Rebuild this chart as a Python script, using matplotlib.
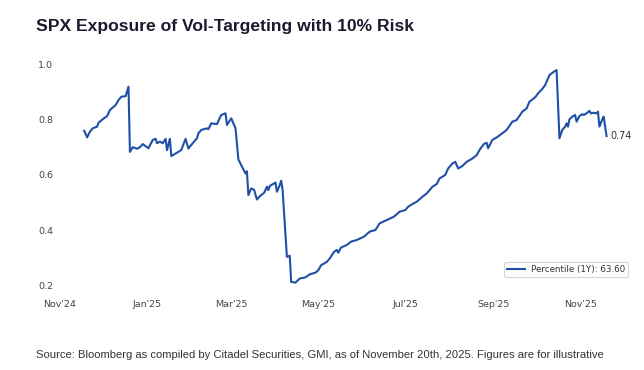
import matplotlib
matplotlib.use("Agg")
import matplotlib.pyplot as plt
import matplotlib.dates as mdates
import pandas as pd
import numpy as np

dates = [
    "2024-11-18", "2024-11-20", "2024-11-22", "2024-11-24", "2024-11-27", "2024-11-28",
    "2024-12-01", "2024-12-04", "2024-12-06", "2024-12-10", "2024-12-12", "2024-12-14",
    "2024-12-17", "2024-12-19", "2024-12-20", "2024-12-22", "2024-12-25", "2024-12-27",
    "2024-12-29", "2025-01-02", "2025-01-05", "2025-01-07", "2025-01-08", "2025-01-10",
    "2025-01-12", "2025-01-14", "2025-01-15", "2025-01-17", "2025-01-18", "2025-01-21",
    "2025-01-23", "2025-01-25", "2025-01-28", "2025-01-30", "2025-02-01", "2025-02-05",
    "2025-02-06", "2025-02-08", "2025-02-12", "2025-02-13", "2025-02-15", "2025-02-19",
    "2025-02-20", "2025-02-22", "2025-02-25", "2025-02-26", "2025-03-01", "2025-03-02",
    "2025-03-04", "2025-03-06", "2025-03-08", "2025-03-11", "2025-03-12", "2025-03-13",
    "2025-03-15", "2025-03-17", "2025-03-19", "2025-03-21", "2025-03-24", "2025-03-26",
    "2025-03-27", "2025-03-28", "2025-04-01", "2025-04-02", "2025-04-04", "2025-04-05",
    "2025-04-06", "2025-04-09", "2025-04-11", "2025-04-12", "2025-04-15", "2025-04-18",
    "2025-04-22", "2025-04-25", "2025-04-29", "2025-05-01", "2025-05-03", "2025-05-05",
    "2025-05-07", "2025-05-09", "2025-05-12", "2025-05-14", "2025-05-15", "2025-05-17",
    "2025-05-21", "2025-05-24", "2025-05-28", "2025-06-02", "2025-06-06", "2025-06-10",
    "2025-06-13", "2025-06-18", "2025-06-23", "2025-06-27", "2025-07-01", "2025-07-03",
    "2025-07-06", "2025-07-09", "2025-07-13", "2025-07-16", "2025-07-20", "2025-07-23",
    "2025-07-25", "2025-07-29", "2025-07-31", "2025-08-03", "2025-08-05", "2025-08-07",
    "2025-08-10", "2025-08-13", "2025-08-17", "2025-08-20", "2025-08-22", "2025-08-25",
    "2025-08-27", "2025-08-28", "2025-08-31", "2025-09-03", "2025-09-07", "2025-09-10",
    "2025-09-14", "2025-09-17", "2025-09-21", "2025-09-24", "2025-09-26", "2025-09-30",
    "2025-10-02", "2025-10-05", "2025-10-07", "2025-10-10", "2025-10-13", "2025-10-15",
    "2025-10-17", "2025-10-19", "2025-10-21", "2025-10-22", "2025-10-23", "2025-10-24",
    "2025-10-26", "2025-10-28", "2025-10-29", "2025-10-31", "2025-11-02", "2025-11-03",
    "2025-11-05", "2025-11-07", "2025-11-08", "2025-11-10", "2025-11-12", "2025-11-13",
    "2025-11-14", "2025-11-16", "2025-11-17", "2025-11-19",
]
exposure = [
    0.759, 0.735, 0.756, 0.768, 0.774, 0.788,
    0.801, 0.812, 0.834, 0.852, 0.870, 0.882,
    0.884, 0.918, 0.683, 0.700, 0.694, 0.700,
    0.711, 0.696, 0.726, 0.730, 0.714, 0.720,
    0.714, 0.730, 0.689, 0.730, 0.668, 0.677,
    0.683, 0.690, 0.730, 0.695, 0.708, 0.732,
    0.750, 0.762, 0.768, 0.765, 0.786, 0.783,
    0.795, 0.816, 0.822, 0.780, 0.804, 0.792,
    0.768, 0.656, 0.635, 0.605, 0.613, 0.527,
    0.551, 0.546, 0.511, 0.523, 0.535, 0.557,
    0.545, 0.560, 0.572, 0.539, 0.563, 0.579,
    0.545, 0.304, 0.308, 0.214, 0.211, 0.226,
    0.230, 0.241, 0.247, 0.256, 0.274, 0.280,
    0.286, 0.298, 0.322, 0.329, 0.319, 0.338,
    0.347, 0.359, 0.365, 0.377, 0.395, 0.401,
    0.425, 0.437, 0.449, 0.467, 0.473, 0.485,
    0.495, 0.503, 0.521, 0.533, 0.557, 0.567,
    0.587, 0.600, 0.623, 0.641, 0.647, 0.623,
    0.632, 0.647, 0.659, 0.671, 0.690, 0.711,
    0.716, 0.696, 0.726, 0.735, 0.750, 0.762,
    0.792, 0.798, 0.828, 0.840, 0.864, 0.880,
    0.894, 0.910, 0.924, 0.960, 0.972, 0.978,
    0.732, 0.762, 0.774, 0.786, 0.774, 0.800,
    0.810, 0.816, 0.792, 0.812, 0.819, 0.816,
    0.822, 0.831, 0.822, 0.824, 0.822, 0.828,
    0.774, 0.800, 0.810, 0.740,
]

title = "SPX Exposure of Vol-Targeting with 10% Risk"
legend_label = "Percentile (1Y): 63.60"
last_label = "0.74"
footer = ("Source: Bloomberg as compiled by Citadel Securities, GMI, as of November 20th, 2025. "
          "Figures are for illustrative")
yticks = [0.2, 0.4, 0.6, 0.8, 1.0]
xtick_dates = ["2024-11-01", "2025-01-01", "2025-03-01", "2025-05-01",
               "2025-07-01", "2025-09-01", "2025-11-01"]

line_color = "#1f4fa6"
tick_color = "#444444"

W, H = 644, 370
fig = plt.figure(figsize=(W / 100, H / 100), dpi=100)
fig.patch.set_facecolor("white")

left_px, right_px = 60, 630
top_px, bot_px = 60, 290
ax = fig.add_axes([left_px / W, 1 - bot_px / H, (right_px - left_px) / W, (bot_px - top_px) / H])
x0 = mdates.date2num(pd.Timestamp("2024-11-01"))
ppd = 1.427
ax.set_xlim(x0, x0 + (right_px - left_px) / ppd)
ppv = (285.7 - 64) / 0.8
ax.set_ylim(0.2 - (bot_px - 285.7) / ppv, 1.0 + (64 - top_px) / ppv)

x = pd.to_datetime(dates)
ax.plot(x, exposure, color=line_color, lw=1.5, label=legend_label)

ax.annotate(last_label, xy=(x[-1], exposure[-1]), xytext=(2.5, 0), textcoords="offset points",
            va="center", ha="left", fontsize=6.9, color="#333333")

for s in ax.spines.values():
    s.set_visible(False)
ax.set_yticks(yticks)
ax.set_yticklabels([f"{v:.1f}" for v in yticks])
ax.set_xticks(pd.to_datetime(xtick_dates))
ax.xaxis.set_major_formatter(mdates.DateFormatter("%b'%y"))
ax.tick_params(axis="both", length=0, labelsize=6.8, colors=tick_color)
ax.tick_params(axis="x", pad=7)
ax.tick_params(axis="y", pad=5)

leg = ax.legend(loc="lower right", bbox_to_anchor=(1.0 - 2 / (right_px - left_px), 13 / (bot_px - top_px)),
                fontsize=6.3, frameon=True, borderaxespad=0, handlelength=2.0,
                handletextpad=0.7, borderpad=0.35, fancybox=True)
leg.get_frame().set_edgecolor("#cccccc")
leg.get_frame().set_linewidth(0.8)
leg.get_lines()[0].set_linewidth(1.5)
for t in leg.get_texts():
    t.set_color("#333333")

fig.text(36 / W, 1 - 30.5 / H, title, fontsize=12.6, fontweight="bold",
         family=["Liberation Sans", "DejaVu Sans"], color="#1a1a2e", va="baseline", ha="left")
fig.text(36.5 / W, 1 - 357.7 / H, footer, fontsize=8.1,
         family=["Liberation Sans", "DejaVu Sans"], color="#333333", va="baseline", ha="left")

fig.savefig("out.png", dpi=100, facecolor="white")
